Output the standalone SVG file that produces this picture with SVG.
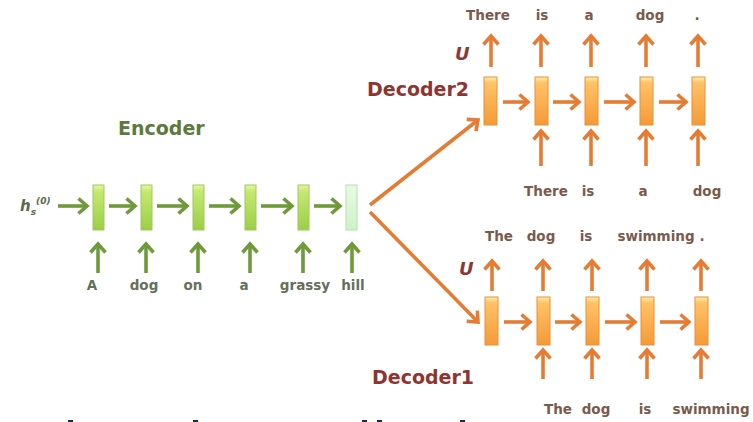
<svg xmlns="http://www.w3.org/2000/svg" width="753" height="422" viewBox="0 0 753 422">
<defs>
<linearGradient id="gGreen" x1="0" y1="0" x2="0" y2="1">
<stop offset="0" stop-color="#e4f7a0"/><stop offset="0.15" stop-color="#c4e870"/><stop offset="1" stop-color="#9cce48"/>
</linearGradient>
<linearGradient id="gMint" x1="0" y1="0" x2="0" y2="1">
<stop offset="0" stop-color="#e8fbe4"/><stop offset="1" stop-color="#cdf2c6"/>
</linearGradient>
<linearGradient id="gOrange" x1="0" y1="0" x2="0" y2="1">
<stop offset="0" stop-color="#fff0b0"/><stop offset="0.12" stop-color="#ffc266"/><stop offset="1" stop-color="#f59a38"/>
</linearGradient>
<marker id="hG" viewBox="0 0 14 18" markerUnits="userSpaceOnUse" markerWidth="14" markerHeight="18" refX="11" refY="9" orient="auto">
<path d="M2.5,1.5 L11,9 L2.5,16.5" fill="none" stroke="#6f9a3a" stroke-width="3.6"/>
</marker>
<marker id="hO" viewBox="0 0 14 18" markerUnits="userSpaceOnUse" markerWidth="14" markerHeight="18" refX="11" refY="9" orient="auto">
<path d="M2.5,1.5 L11,9 L2.5,16.5" fill="none" stroke="#e57c33" stroke-width="3.6"/>
</marker>
<style>
.ge{fill:url(#gGreen);stroke:#9fc860;stroke-width:1}
.gm{fill:url(#gMint);stroke:#b8e0b0;stroke-width:1}
.oc{fill:url(#gOrange);stroke:#e8903a;stroke-width:1}
.ag{fill:none;stroke:#6f9a3a;stroke-width:3.6;marker-end:url(#hG)}
.ao{fill:none;stroke:#e57c33;stroke-width:3.6;marker-end:url(#hO)}
.t{font-family:"DejaVu Sans","Liberation Sans",sans-serif}
.tw{font-size:13.5px;font-weight:bold;fill:#65705a;text-anchor:middle}
.to{font-size:13.5px;font-weight:bold;fill:#7a5a4a;text-anchor:middle}
.ht{font-size:19px;font-weight:bold}
.u{font-size:18px;font-weight:bold;font-style:italic;fill:#8b3a32}
</style>
</defs>
<rect width="753" height="422" fill="#ffffff"/>

<g id="titles">
<text class="t ht" x="118" y="135" fill="#5b7a3c">Encoder</text>
<text class="t ht" x="367" y="96" fill="#8e3530">Decoder2</text>
<text class="t ht" x="372" y="384" fill="#8e3530">Decoder1</text>
<text class="t u" x="455" y="60">U</text>
<text class="t u" x="459" y="275">U</text>
<text class="t" x="20" y="211" font-size="15" font-weight="bold" font-style="italic" fill="#5a6a48">h<tspan font-size="9" dy="4">s</tspan><tspan font-size="9" dy="-11">(0)</tspan></text>
</g>

<g id="encoder">
<rect id="e1" class="ge" x="93" y="185" width="11" height="45"/>
<rect id="e2" class="ge" x="141" y="185" width="11" height="45"/>
<rect id="e3" class="ge" x="193" y="185" width="11" height="45"/>
<rect id="e4" class="ge" x="245" y="185" width="11" height="45"/>
<rect id="e5" class="ge" x="298" y="185" width="11" height="45"/>
<rect id="e6" class="gm" x="346" y="185" width="11" height="45"/>
</g>

<g id="decoder2">
<rect id="d2c1" class="oc" x="484" y="77" width="13" height="48"/>
<rect id="d2c2" class="oc" x="535" y="77" width="13" height="48"/>
<rect id="d2c3" class="oc" x="585" y="77" width="13" height="48"/>
<rect id="d2c4" class="oc" x="640" y="77" width="13" height="48"/>
<rect id="d2c5" class="oc" x="692" y="77" width="13" height="48"/>
</g>

<g id="decoder1">
<rect id="d1c1" class="oc" x="485" y="297" width="13" height="48"/>
<rect id="d1c2" class="oc" x="537" y="297" width="13" height="48"/>
<rect id="d1c3" class="oc" x="586" y="297" width="13" height="48"/>
<rect id="d1c4" class="oc" x="641" y="297" width="13" height="48"/>
<rect id="d1c5" class="oc" x="695" y="297" width="13" height="48"/>
</g>

<g id="connectors">
<path class="ag" d="M58,206 H87"/>
<path class="ag" d="M109,206 H135"/>
<path class="ag" d="M157,206 H187"/>
<path class="ag" d="M209,206 H239"/>
<path class="ag" d="M261,206 H292"/>
<path class="ag" d="M314,206 H340"/>
<path class="ag" d="M98,273 V244"/>
<path class="ag" d="M146,273 V244"/>
<path class="ag" d="M198,273 V244"/>
<path class="ag" d="M250,273 V244"/>
<path class="ag" d="M303,273 V244"/>
<path class="ag" d="M352,273 V244"/>
<path class="ao" d="M370,205 L478,120"/>
<path class="ao" d="M370,212 L478,322"/>
<path class="ao" d="M503,102 H528"/>
<path class="ao" d="M553,102 H579"/>
<path class="ao" d="M604,102 H634"/>
<path class="ao" d="M659,102 H686"/>
<path class="ao" d="M491,67 V36"/>
<path class="ao" d="M541,67 V36"/>
<path class="ao" d="M591,67 V36"/>
<path class="ao" d="M646,67 V36"/>
<path class="ao" d="M698,67 V36"/>
<path class="ao" d="M541,166 V131"/>
<path class="ao" d="M591,166 V131"/>
<path class="ao" d="M646,166 V131"/>
<path class="ao" d="M698,166 V131"/>
<path class="ao" d="M504,322 H530"/>
<path class="ao" d="M555,322 H580"/>
<path class="ao" d="M605,322 H635"/>
<path class="ao" d="M660,322 H689"/>
<path class="ao" d="M492,291 V261"/>
<path class="ao" d="M543,291 V261"/>
<path class="ao" d="M592,291 V261"/>
<path class="ao" d="M647,291 V261"/>
<path class="ao" d="M701,291 V261"/>
<path class="ao" d="M543,379 V350"/>
<path class="ao" d="M592,379 V350"/>
<path class="ao" d="M647,379 V350"/>
<path class="ao" d="M701,379 V350"/>
</g>

<g id="labels">
<text class="t tw" x="92" y="290">A</text>
<text class="t tw" x="144" y="290">dog</text>
<text class="t tw" x="193" y="290">on</text>
<text class="t tw" x="244" y="290">a</text>
<text class="t tw" x="305" y="290">grassy</text>
<text class="t tw" x="353" y="290">hill</text>

<text class="t to" x="488" y="20">There</text>
<text class="t to" x="542" y="20">is</text>
<text class="t to" x="589" y="20">a</text>
<text class="t to" x="650" y="20">dog</text>
<text class="t to" x="697" y="20">.</text>
<text class="t to" x="546" y="196">There</text>
<text class="t to" x="588" y="196">is</text>
<text class="t to" x="643" y="196">a</text>
<text class="t to" x="707" y="196">dog</text>

<text class="t to" x="499" y="241">The</text>
<text class="t to" x="541" y="241">dog</text>
<text class="t to" x="586" y="241">is</text>
<text class="t to" x="656" y="241">swimming</text>
<text class="t to" x="702" y="241">.</text>
<text class="t to" x="558" y="414">The</text>
<text class="t to" x="596" y="414">dog</text>
<text class="t to" x="645" y="414">is</text>
<text class="t to" x="711" y="414">swimming</text>
</g>

<g id="cutoff" fill="#1a2a4a">
<rect x="68" y="420" width="5" height="2"/>
<rect x="193" y="420" width="5" height="2"/>
<rect x="362" y="420" width="5" height="2"/>
<rect x="377" y="420" width="5" height="2"/>
<rect x="460" y="420" width="5" height="2"/>
</g>
</svg>
